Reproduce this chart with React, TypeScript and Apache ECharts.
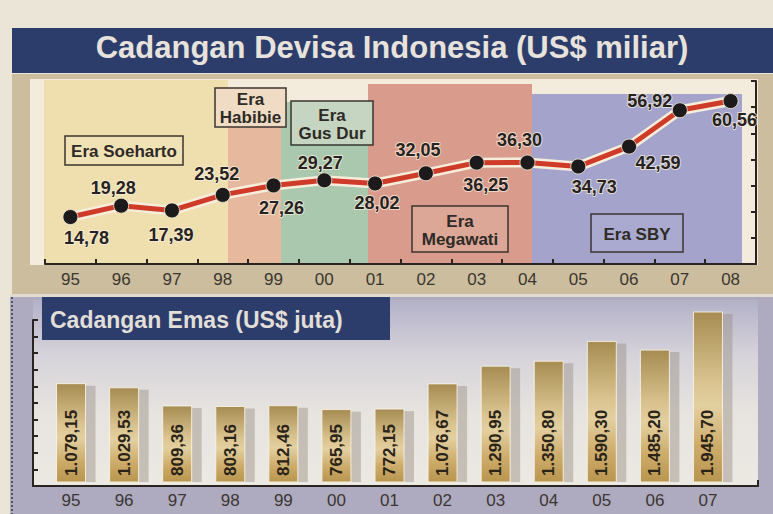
import React, { useEffect, useRef } from 'react';
import * as echarts from 'echarts';

const years = ['95', '96', '97', '98', '99', '00', '01', '02', '03', '04', '05', '06', '07', '08'];
const devisa = [14.78, 19.28, 17.39, 23.52, 27.26, 29.27, 28.02, 32.05, 36.25, 36.3, 34.73, 42.59, 56.92, 60.56];
const devisaLabelOffsets = [
  [16, 21], [-8, -18], [-1, 25], [-6, -21], [8, 23], [-4, -17], [2, 20],
  [-8, -23], [9, 22], [-8, -23], [16, 21], [29, 16], [-30, -9], [4, 19],
];

const goldYears = ['95', '96', '97', '98', '99', '00', '01', '02', '03', '04', '05', '06', '07'];
const gold = [1079.15, 1029.53, 809.36, 803.16, 812.46, 765.95, 772.15, 1076.67, 1290.95, 1350.8, 1590.3, 1485.2, 1945.7];

const eras = [
  { name: 'Era Soeharto', x0: 44, x1: 228, y0: 80, color: '#efdfae', box: [65, 136, 118, 29], boxFill: '#f1e2b6' },
  { name: 'Era\nHabibie', x0: 228, x1: 281, y0: 127, color: '#e6b99f', box: [215, 88, 71, 39], boxFill: '#f0dcc4' },
  { name: 'Era\nGus Dur', x0: 281, x1: 368, y0: 102, color: '#a9c8ae', box: [291, 101, 82, 44], boxFill: '#c6d5c1' },
  { name: 'Era\nMegawati', x0: 368, x1: 532, y0: 84, color: '#d99b8b', box: [412, 206, 96, 46], boxFill: '#dca797' },
  { name: 'Era SBY', x0: 532, x1: 742, y0: 94, color: '#a3a3cb', box: [591, 214, 92, 38], boxFill: '#aaaad0' },
];

const FONT = '"Liberation Sans", Arial, Helvetica, sans-serif';
const AXIS = '#2a2420';
const devisaMin = -3.75;
const devisaMax = 68.47;
const goldMin = -157.8;
const goldMax = 2090.8;

function fmt(v: number): string {
  const [i, d] = v.toFixed(2).split('.');
  return i.replace(/\B(?=(\d{3})+(?!\d))/g, '.') + ',' + d;
}

export default function App() {
  const ref = useRef<HTMLDivElement>(null);
  useEffect(() => {
    if (!ref.current) return;
    const chart = echarts.init(ref.current, null, { renderer: 'svg' });

    const bg: any[] = [
      { type: 'rect', z: -20, shape: { x: 0, y: 0, width: 773, height: 514 }, style: { fill: '#ebe5d8' } },
      { type: 'rect', z: -19, shape: { x: 12, y: 74, width: 761, height: 220 }, style: { fill: '#cbbd9d' } },
      { type: 'rect', z: -18, shape: { x: 30, y: 79, width: 728, height: 186 }, style: { fill: '#f3ecdd' } },
      { type: 'rect', z: -19, shape: { x: 10, y: 294, width: 763, height: 3 }, style: { fill: '#e2dbcf' } },
      { type: 'rect', z: -19, shape: { x: 10, y: 297, width: 763, height: 217 }, style: { fill: '#aeaac0' } },
      {
        type: 'rect', z: -18, shape: { x: 33, y: 300, width: 725, height: 186 },
        style: {
          fill: new echarts.graphic.LinearGradient(0, 0, 0, 1, [
            { offset: 0, color: '#b3b1c8' },
            { offset: 0.3, color: '#d6d3da' },
            { offset: 0.6, color: '#e7e3df' },
            { offset: 1, color: '#ece8e2' },
          ]),
        },
      },
      { type: 'line', z: -17, shape: { x1: 12, y1: 297, x2: 12, y2: 514 }, style: { stroke: '#3d3b4c', lineWidth: 1.5, lineDash: [2, 2] } },
      { type: 'rect', z: -17, shape: { x: 12, y: 28, width: 761, height: 45 }, style: { fill: '#2c3d6b' } },
      {
        type: 'text', z: 10, x: 392, y: 47,
        style: { text: 'Cadangan Devisa Indonesia (US$ miliar)', fill: '#e7e3dc', font: `bold 31px ${FONT}`, align: 'center', verticalAlign: 'middle' },
      },
      { type: 'rect', z: 5, shape: { x: 42, y: 297, width: 348, height: 43 }, style: { fill: '#2c3d6b' } },
      {
        type: 'text', z: 10, x: 50, y: 320,
        style: { text: 'Cadangan Emas (US$ juta)', fill: '#e2ded8', font: `bold 23px ${FONT}`, align: 'left', verticalAlign: 'middle' },
      },
    ];

    eras.forEach((e) => {
      bg.push({ type: 'rect', z: -16, shape: { x: e.x0, y: e.y0, width: e.x1 - e.x0, height: 264 - e.y0 }, style: { fill: e.color } });
      const [bx, by, bw, bh] = e.box;
      bg.push({ type: 'rect', z: 1, shape: { x: bx, y: by, width: bw, height: bh }, style: { fill: e.boxFill, stroke: '#3b3530', lineWidth: 1.5 } });
      bg.push({
        type: 'text', z: 2, x: bx + bw / 2, y: by + bh / 2 + 1,
        style: { text: e.name, fill: '#2e2a26', font: `bold 17px ${FONT}`, align: 'center', verticalAlign: 'middle', lineHeight: 18 },
      });
    });

    const axisLine = { show: true, onZero: false, lineStyle: { color: AXIS, width: 2 } };
    const tick = { show: true, inside: true, length: 5, lineStyle: { color: AXIS, width: 2 } };

    chart.setOption({
      animation: false,
      textStyle: { fontFamily: FONT },
      graphic: { elements: bg },
      grid: [
        { left: 45, top: 81, width: 711, height: 183 },
        { left: 44.5, top: 300, width: 690, height: 186 },
        { left: 33, top: 320, width: 725, height: 166 },
      ],
      xAxis: [
        {
          gridIndex: 0, type: 'category', data: years, boundaryGap: true,
          axisLine, axisTick: tick,
          axisLabel: { fontSize: 17, color: '#3b3630', margin: 7, fontFamily: FONT },
          splitLine: { show: false },
        },
        {
          gridIndex: 1, type: 'category', data: goldYears, boundaryGap: true,
          axisLine: { show: false, onZero: false }, axisTick: { show: false },
          axisLabel: { fontSize: 17, color: '#3b3630', margin: 6, fontFamily: FONT },
          splitLine: { show: false },
        },
        {
          gridIndex: 2, type: 'value', min: 0, max: 1, interval: 1,
          axisLine, axisTick: { ...tick, length: 6 }, axisLabel: { show: false }, splitLine: { show: false },
        },
      ],
      yAxis: [
        { gridIndex: 0, type: 'value', min: devisaMin, max: devisaMax, show: false, splitLine: { show: false } },
        {
          gridIndex: 0, type: 'value', min: 0, max: 7, interval: 1,
          axisLine, axisTick: tick, axisLabel: { show: false }, splitLine: { show: false },
        },
        { gridIndex: 1, type: 'value', min: goldMin, max: goldMax, show: false, splitLine: { show: false } },
        {
          gridIndex: 2, type: 'value', min: 0, max: 10, interval: 1,
          axisLine, axisTick: tick, axisLabel: { show: false }, splitLine: { show: false },
        },
      ],
      series: [
        {
          type: 'line', xAxisIndex: 0, yAxisIndex: 0, data: devisa, symbol: 'none', silent: true, z: 2,
          lineStyle: { color: '#f6eddb', width: 10 },
        },
        {
          type: 'line', xAxisIndex: 0, yAxisIndex: 0, z: 3,
          data: devisa.map((v, i) => ({ value: v, label: { offset: devisaLabelOffsets[i] } })),
          symbol: 'circle', symbolSize: 15,
          itemStyle: { color: '#1c1a1a', borderColor: 'rgba(246,237,219,0.8)', borderWidth: 1 },
          lineStyle: { color: '#cf3b29', width: 5 },
          label: {
            show: true, position: 'inside',
            formatter: (p: any) => fmt(p.value),
            fontSize: 18, fontWeight: 'bold', color: '#262220', fontFamily: FONT,
            textBorderColor: 'rgba(246,238,222,0.75)', textBorderWidth: 2,
          },
        },
        {
          type: 'custom', xAxisIndex: 1, yAxisIndex: 2, z: 3, clip: false,
          data: gold.map((v, i) => [i, v]),
          encode: { x: 0, y: 1 },
          renderItem: (params: any, api: any) => {
            const idx = api.value(0);
            const val = api.value(1);
            const top = api.coord([idx, val]);
            const base = api.coord([idx, goldMin]);
            const w = 29;
            const x = top[0] - w / 2;
            const bottom = base[1] - 4;
            const h = bottom - top[1];
            return {
              type: 'group',
              children: [
                { type: 'rect', shape: { x: x + w, y: top[1] + 2, width: 10, height: h - 2 }, style: { fill: 'rgba(150,142,132,0.45)' } },
                {
                  type: 'rect', shape: { x, y: top[1], width: w, height: h },
                  style: {
                    fill: new echarts.graphic.LinearGradient(0, 0, 0, 1, [
                      { offset: 0, color: '#a68c52' },
                      { offset: 0.4, color: '#d9c28e' },
                      { offset: 0.55, color: '#e3d0a0' },
                      { offset: 0.8, color: '#ccaa68' },
                      { offset: 1, color: '#b8964f' },
                    ]),
                    stroke: 'rgba(250,244,232,0.85)', lineWidth: 1,
                  },
                },
                {
                  type: 'text', x: top[0], y: bottom - 6, rotation: Math.PI / 2,
                  style: {
                    text: fmt(val), fill: '#2a2418', fontSize: 17, fontWeight: 'bold', fontFamily: FONT,
                    align: 'left', verticalAlign: 'middle',
                  },
                },
              ],
            };
          },
        },
      ],
    });
    return () => chart.dispose();
  }, []);
  return <div ref={ref} style={{ position: 'absolute', left: 0, top: 0, width: 773, height: 514 }} />;
}
